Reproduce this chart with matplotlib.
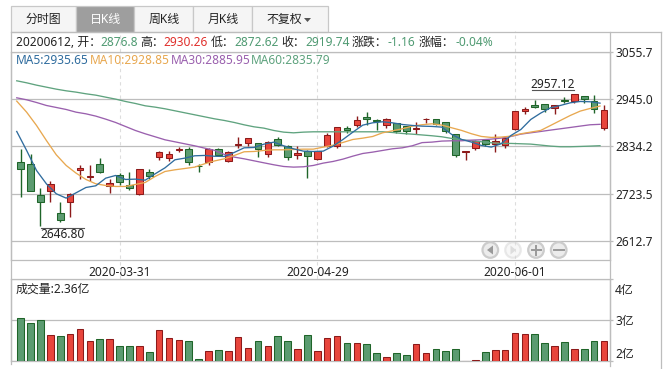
#!/usr/bin/env python
# -*- coding: utf-8 -*-
import sys
import numpy as np
import matplotlib as mpl
mpl.use('Agg')
import matplotlib.pyplot as plt
from matplotlib.patches import Circle, Polygon, Rectangle
from matplotlib.transforms import ScaledTranslation

opens = [2798.1, 2793.4, 2720.6, 2729.1, 2678.4, 2704.2, 2778.4, 2762.9, 2793.4, 2740.8,
         2767.6, 2744.1, 2723.0, 2774.6, 2809.8, 2807.5, 2826.2, 2828.6, 2788.7, 2798.1,
         2828.6, 2799.5, 2837.0, 2841.7, 2842.7, 2816.9, 2852.0, 2834.7, 2813.6, 2822.3,
         2804.2, 2834.7, 2835.6, 2877.9, 2884.0, 2903.7, 2896.6, 2884.9, 2889.6, 2882.6,
         2874.6, 2897.3, 2899.0, 2891.9, 2863.8, 2820.6, 2830.0, 2849.7, 2840.3, 2837.0,
         2874.6, 2916.8, 2931.9, 2934.2, 2924.8, 2943.6, 2941.2, 2953.0, 2941.2, 2876.8]
highs = [2828.6, 2816.9, 2737.0, 2753.5, 2704.2, 2725.3, 2791.0, 2789.4, 2807.5, 2758.2,
         2772.3, 2774.6, 2781.6, 2781.6, 2823.9, 2823.9, 2833.3, 2833.3, 2793.4, 2830.9,
         2830.4, 2822.9, 2856.7, 2854.4, 2842.7, 2846.4, 2855.1, 2836.3, 2834.0, 2824.6,
         2823.9, 2866.1, 2880.2, 2882.6, 2906.0, 2915.4, 2899.0, 2901.3, 2889.6, 2882.6,
         2892.0, 2900.9, 2899.0, 2891.9, 2863.8, 2822.3, 2849.7, 2849.7, 2863.8, 2858.2,
         2917.8, 2927.2, 2943.6, 2934.2, 2931.9, 2950.6, 2957.12, 2953.0, 2955.3, 2930.26]
lows = [2715.0, 2730.0, 2646.8, 2703.3, 2657.2, 2668.0, 2758.2, 2751.8, 2771.3, 2725.3,
        2744.1, 2732.4, 2720.6, 2758.2, 2802.8, 2800.4, 2820.6, 2791.0, 2774.6, 2791.0,
        2812.8, 2796.4, 2830.0, 2835.6, 2808.9, 2808.9, 2834.7, 2801.8, 2804.2, 2759.6,
        2801.8, 2832.3, 2830.0, 2865.2, 2879.3, 2884.9, 2873.2, 2877.9, 2866.1, 2862.9,
        2862.9, 2888.7, 2884.4, 2866.1, 2809.8, 2801.8, 2826.2, 2834.7, 2821.5, 2830.9,
        2871.6, 2910.7, 2924.8, 2915.4, 2910.7, 2936.5, 2936.0, 2936.5, 2913.0, 2872.62]
closes = [2781.6, 2730.0, 2703.3, 2746.4, 2661.9, 2723.0, 2784.0, 2765.2, 2773.7, 2748.8,
          2751.1, 2737.0, 2781.6, 2765.2, 2821.5, 2816.9, 2827.7, 2798.1, 2787.0, 2828.6,
          2814.5, 2820.6, 2840.3, 2854.4, 2827.6, 2845.0, 2838.0, 2808.9, 2817.6, 2811.2,
          2823.9, 2861.4, 2880.2, 2872.3, 2896.6, 2898.0, 2893.4, 2899.0, 2870.8, 2870.8,
          2877.9, 2899.0, 2887.3, 2870.8, 2814.5, 2822.3, 2847.4, 2840.3, 2847.4, 2854.4,
          2917.8, 2922.5, 2927.2, 2922.5, 2931.9, 2941.2, 2957.1, 2946.0, 2922.5, 2919.74]

ma5 = [2869.2, 2824.6, 2777.6, 2746.3, 2722.9, 2712.7, 2725.2, 2737.7, 2741.7, 2759.6,
       2765.9, 2756.5, 2757.3, 2754.9, 2769.8, 2783.9, 2802.7, 2806.6, 2812.1, 2812.9,
       2811.0, 2810.5, 2819.9, 2830.8, 2831.6, 2839.4, 2844.1, 2835.5, 2828.5, 2823.0,
       2822.2, 2823.0, 2834.8, 2850.4, 2867.6, 2884.0, 2889.5, 2891.9, 2889.5, 2885.6,
       2883.3, 2881.7, 2881.0, 2879.4, 2862.2, 2850.5, 2844.2, 2836.4, 2832.5, 2840.3,
       2859.9, 2873.9, 2897.4, 2912.3, 2924.8, 2930.3, 2936.5, 2939.6, 2938.9, 2935.65]
ma10 = [2940.4, 2914.5, 2883.3, 2848.0, 2814.4, 2789.4, 2771.4, 2756.5, 2746.3, 2742.4,
        2740.1, 2740.1, 2744.8, 2749.5, 2763.6, 2775.3, 2779.2, 2782.3, 2785.5, 2793.3,
        2800.0, 2805.0, 2812.8, 2821.5, 2822.2, 2824.6, 2826.1, 2826.1, 2826.9, 2827.7,
        2827.7, 2832.4, 2837.1, 2843.4, 2850.4, 2853.5, 2857.4, 2866.0, 2870.7, 2875.4,
        2881.7, 2885.0, 2887.2, 2884.1, 2877.8, 2871.6, 2863.8, 2857.5, 2855.2, 2856.0,
        2858.3, 2863.8, 2867.7, 2871.6, 2883.3, 2895.1, 2906.8, 2917.0, 2923.2, 2928.85]
ma30 = [2948.2, 2943.5, 2937.2, 2930.2, 2925.5, 2920.8, 2914.5, 2910.6, 2905.2, 2898.1,
        2890.3, 2880.9, 2871.5, 2863.7, 2856.7, 2849.6, 2844.9, 2840.2, 2835.5, 2830.1,
        2825.0, 2815.2, 2809.0, 2805.0, 2800.3, 2795.6, 2791.0, 2787.0, 2785.5, 2786.3,
        2789.4, 2794.9, 2798.8, 2804.3, 2811.3, 2817.5, 2820.7, 2824.6, 2828.5, 2830.8,
        2835.5, 2843.0, 2844.2, 2846.6, 2847.3, 2847.3, 2848.9, 2849.7, 2851.2, 2853.6,
        2857.5, 2863.0, 2866.1, 2869.2, 2872.4, 2875.5, 2878.6, 2881.8, 2884.9, 2885.95]
ma60 = [2988.1, 2983.4, 2977.9, 2973.2, 2968.5, 2964.6, 2961.5, 2957.6, 2954.4, 2949.7,
        2945.1, 2939.6, 2934.9, 2929.4, 2926.3, 2922.4, 2917.7, 2913.0, 2908.3, 2903.6,
        2898.9, 2895.0, 2890.3, 2884.8, 2880.1, 2877.0, 2871.5, 2867.6, 2866.0, 2867.6,
        2868.4, 2868.4, 2868.4, 2868.4, 2868.4, 2868.4, 2868.4, 2868.4, 2866.8, 2864.5,
        2862.9, 2861.0, 2859.1, 2856.7, 2852.8, 2849.7, 2847.3, 2845.0, 2842.6, 2841.1,
        2841.1, 2840.3, 2839.5, 2837.2, 2834.8, 2833.3, 2833.3, 2834.0, 2834.8, 2835.79]

# volume in units of 亿
volumes = [3.05, 2.93, 3.00, 2.64, 2.61, 2.66, 2.78, 2.49, 2.54, 2.54,
           2.37, 2.37, 2.37, 2.23, 2.76, 2.56, 2.52, 2.49, 2.06, 2.25,
           2.27, 2.25, 2.59, 2.32, 2.49, 2.37, 2.61, 2.49, 2.30, 2.64,
           2.25, 2.56, 2.61, 2.44, 2.44, 2.42, 2.20, 2.10, 2.20, 2.15,
           2.42, 2.20, 2.30, 2.25, 2.30, 2.01, 2.03, 2.23, 2.27, 2.27,
           2.69, 2.66, 2.66, 2.44, 2.37, 2.47, 2.30, 2.30, 2.49, 2.49]

date_ticks = [10, 30, 50]
date_labels = ['2020-03-31', '2020-04-29', '2020-06-01']
price_ticks = [3055.7, 2945.0, 2834.2, 2723.5, 2612.7]
volume_ticks = [2, 3, 4]
volume_labels = ['2亿', '3亿', '4亿']
tab_labels = ['分时图', '日K线', '周K线', '月K线', '不复权']

W, H = 672, 369
FONT = ['Noto Sans', 'Noto Sans CJK SC']
GRID = '#bdbdbd'
RED, RED_EDGE = '#e8453c', '#8c1a1a'
GREEN, GREEN_EDGE = '#5b9b70', '#1f6529'
TXT_GREEN, TXT_RED = '#4f9a72', '#e0302c'
MA_COLORS = ['#2f6c9e', '#e8a850', '#9a60ae', '#5fa37f']


def px_axes(fig, left, top, right, bottom, **kw):
  return fig.add_axes([left / W, 1 - bottom / H, (right - left) / W, (bottom - top) / H], **kw)


def style_spines(ax):
  for s in ax.spines.values():
    s.set_color(GRID)
    s.set_linewidth(0.9)


def draw_candles(ax, x):
  up = np.array(closes) >= np.array(opens)
  colors = [RED if u else GREEN for u in up]
  edges = [RED_EDGE if u else GREEN_EDGE for u in up]
  ax.vlines(x, lows, highs, colors=edges, linewidth=1.0, zorder=3)
  body = np.abs(np.array(closes) - np.array(opens))
  ax.bar(x, body, bottom=np.minimum(opens, closes), width=0.67, color=colors,
         edgecolor=edges, linewidth=0.75, zorder=4)


def draw_main(ax, x):
  draw_candles(ax, x)
  # the moving averages sit a bit left of the candles in the original
  for vals, col in zip([ma60, ma30, ma10, ma5], MA_COLORS[::-1]):
    ax.plot(x - 0.4, vals, color=col, linewidth=0.95, zorder=5)
  ax.set_xlim(-0.95, 59.56)
  ax.set_ylim(2567.5, 3055.7)
  ax.set_yticks(price_ticks)
  ax.set_yticklabels(['%.1f' % p for p in price_ticks], fontsize=8.6, color='#222222', family=FONT)
  ax.yaxis.tick_right()
  ax.tick_params(axis='y', length=2.5, width=0.9, color=GRID, pad=1.5)
  ax.set_xticks(date_ticks)
  ax.set_xticklabels(date_labels, fontsize=8.6, color='#222222', family=FONT)
  ax.tick_params(axis='x', length=0, pad=4)
  ax.grid(axis='y', color=GRID, linewidth=0.9, zorder=1)
  ax.set_axisbelow(True)
  style_spines(ax)
  for t in date_ticks:
    ax.axvline(t, ymin=-0.12, ymax=1.1, color='#dddddd', linewidth=0.8, linestyle=(0, (3, 3)),
               clip_on=False, zorder=1)


def draw_volume(ax, x, fig):
  up = np.array(closes) >= np.array(opens)
  ax.bar(x, volumes, width=0.67, color=[RED if u else GREEN for u in up],
         edgecolor=[RED_EDGE if u else GREEN_EDGE for u in up], linewidth=0.75, zorder=3)
  ax.set_xlim(-0.95, 59.56)
  ax.set_ylim(2, 3.98)
  ax.set_xticks([])
  ax.set_yticks(volume_ticks)
  ax.set_yticklabels(volume_labels, fontsize=8.6, color='#222222', family=FONT)
  ax.yaxis.tick_right()
  ax.tick_params(axis='y', length=2.5, width=0.9, color=GRID, pad=1.5)
  labels = ax.get_yticklabels()
  labels[0].set_verticalalignment('bottom')
  # top label hangs lower than its tick
  labels[2].set_verticalalignment('top')
  labels[2].set_transform(labels[2].get_transform() + ScaledTranslation(0, -5 / 100, fig.dpi_scale_trans))
  ax.grid(axis='y', color=GRID, linewidth=0.9, zorder=1)
  ax.set_axisbelow(True)
  style_spines(ax)


def draw_tabs(ax):
  edges = [11, 76, 134, 193.3, 252.3, 328.3]
  for i, label in enumerate(tab_labels):
    active = i == 1
    ax.add_patch(Rectangle((edges[i], 6), edges[i + 1] - edges[i], 25.5, linewidth=0.9,
                           facecolor='#9e9e9e' if active else '#f5f5f5', edgecolor='#c8c8c8'))
    cx = (edges[i] + edges[i + 1]) / 2
    if i == 4:
      cx -= 6
    ax.text(cx, 19.5, label, ha='center', va='center', fontsize=8.6, family=FONT,
            color='white' if active else '#222222')
  ax.add_patch(Polygon([[304, 18], [311, 18], [307.5, 22]], closed=True, facecolor='#555555',
                       edgecolor='none'))


def draw_info(ax):
  row1 = [(16, '20200612, 开：', '#222222'), (100, '2876.8', TXT_GREEN), (140, '高：', '#222222'),
          (163.7, '2930.26', TXT_RED), (211, '低：', '#222222'), (234.7, '2872.62', TXT_GREEN),
          (281.7, '收：', '#222222'), (305.7, '2919.74', TXT_GREEN), (352, '涨跌：', '#222222'),
          (387.7, '-1.16', TXT_GREEN), (419, '涨幅：', '#222222'), (455, '-0.04%', TXT_GREEN)]
  for px, s, col in row1:
    ax.text(px, 42.5, s, ha='left', va='center', fontsize=8.6, color=col, family=FONT)
  row2 = [(16, 'MA5:%.2f' % ma5[-1]), (90, 'MA10:%.2f' % ma10[-1]),
          (170.7, 'MA30:%.2f' % ma30[-1]), (250.7, 'MA60:%.2f' % ma60[-1])]
  for (px, s), col in zip(row2, MA_COLORS):
    ax.text(px, 60.5, s, ha='left', va='center', fontsize=8.6, color=col, family=FONT)
  ax.text(16, 289, '成交量:2.36亿', ha='left', va='center', fontsize=8.6, color='#222222', family=FONT)


def draw_buttons(ax):
  y = 250
  for cx, alpha in zip([490.3, 513, 536, 558.7], [1, 0.4, 1, 1]):
    ax.add_patch(Circle((cx, y), 7.8, facecolor='#ececec', edgecolor='#cccccc', linewidth=1.6, alpha=alpha))
  ax.add_patch(Polygon([[487, y], [493, y - 4.5], [493, y + 4.5]], closed=True, facecolor='#999999', edgecolor='none'))
  ax.add_patch(Polygon([[516, y], [510.5, y - 4.5], [510.5, y + 4.5]], closed=True, facecolor='#dddddd', edgecolor='none'))
  ax.plot([531.5, 540.5], [y, y], color='#999999', linewidth=1.4)
  ax.plot([536, 536], [y - 4.5, y + 4.5], color='#999999', linewidth=1.4)
  ax.plot([554, 563.5], [y, y], color='#999999', linewidth=1.4)


def main():
  fig = plt.figure(figsize=(W / 100, H / 100), dpi=100, facecolor='white')
  x = np.arange(len(closes))

  axe_main = px_axes(fig, 11.3, 52, 609.5, 260)
  axe_vol = px_axes(fig, 11.3, 279.3, 609.5, 361)
  draw_main(axe_main, x)
  draw_volume(axe_vol, x, fig)

  # pixel overlay for the tabs, info rows and the frame around the panels
  over = fig.add_axes([0, 0, 1, 1], zorder=10)
  over.set_xlim(0, W)
  over.set_ylim(H, 0)
  over.axis('off')
  over.patch.set_alpha(0)

  over.plot([11.3, 660.7], [32, 32], color=GRID, linewidth=0.9)
  over.plot([11.3, 11.3], [32, 364], color=GRID, linewidth=0.9)
  over.plot([609.5, 609.5], [32, 366], color=GRID, linewidth=0.9)
  over.plot([660.7, 660.7], [32, 369], color=GRID, linewidth=0.9)

  draw_tabs(over)
  draw_info(over)
  draw_buttons(over)

  over.text(62.5, 235, '%.2f' % min(lows), ha='center', va='center', fontsize=8.6, color='#222222', family=FONT)
  over.plot([41, 84], [228.3, 228.3], color='#555555', linewidth=0.8)
  over.text(553, 84.5, '%.2f' % max(highs), ha='center', va='center', fontsize=8.6, color='#222222', family=FONT)
  over.plot([532, 574], [90, 90], color='#555555', linewidth=0.8)

  fig.savefig('out.png', dpi=100)


if __name__ == "__main__":
  sys.exit(main())
